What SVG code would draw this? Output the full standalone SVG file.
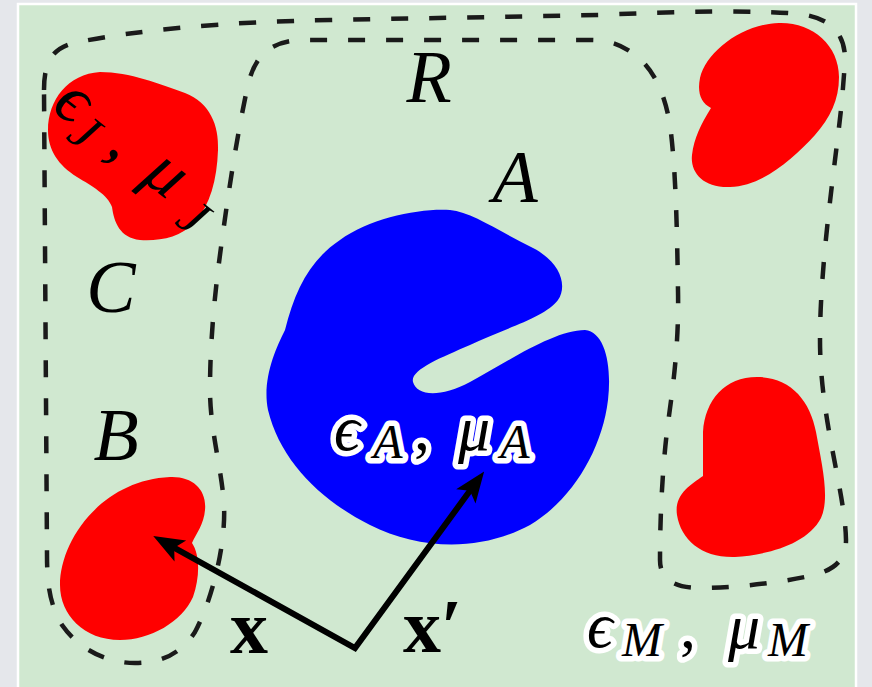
<svg xmlns="http://www.w3.org/2000/svg" width="872" height="687" viewBox="0 0 872 687">
  <defs>
    <style>
      .lab { font-family: "Liberation Serif", "DejaVu Serif", serif; font-style: italic; fill: #000; }
      .big { font-size: 74px; }
      .main { font-size: 64px; }
      .sub { font-size: 48px; }
      .bold { font-family: "Liberation Serif", "DejaVu Serif", serif; font-weight: bold; font-size: 76px; fill: #000; }
      .halo { stroke: #fff; stroke-width: 11; stroke-linejoin: round; paint-order: stroke fill; }
      .red { fill: #ff0000; }
      .blue { fill: #0000ff; }
      .dash { fill: none; stroke: #1a1a1a; stroke-width: 4.5; stroke-dasharray: 17 21; }
      .arrow { fill: none; stroke: #000; stroke-width: 6; stroke-linejoin: miter; stroke-miterlimit: 10; }
    </style>
    <marker id="head" markerUnits="userSpaceOnUse" markerWidth="60" markerHeight="60" refX="0" refY="0" orient="auto-start-reverse" overflow="visible">
      <path d="M17,0 L-14,-12 L-7,0 L-14,12 Z" fill="#000"/>
    </marker>
  </defs>

  <rect x="0" y="0" width="872" height="687" fill="#e5e7eb"/>
  <rect id="medium" x="18" y="4" width="838" height="700" fill="#d0e8d0" stroke="#ffffff" stroke-width="2.5"/>

  <g id="region-C">
    <path class="dash" d="M44,90 C44,62 52,47 78,42 C140,30 220,22 330,20 L600,15 C680,11 760,10 800,14 C832,18 846,35 845,62 L842,100 C836,160 820,260 820,340 C820,420 845,490 846,540 C846,562 832,572 805,577 C770,584 730,588 700,588 C675,588 660,580 660,560 C660,520 662,470 668,423 C674,380 679,340 678,290 C677,230 676,170 670,125 C665,95 655,70 635,55 C622,45 610,40 590,40 L300,40 C270,42 255,55 248,85 C240,120 230,180 222,240 C215,290 210,340 210,390 C210,430 222,470 224,505 C226,545 212,600 195,632 C180,655 160,663 135,663 C105,663 78,648 62,625 C50,605 47,585 47,555 Z"/>
  </g>

  <g id="blob-J">
    <path class="red" d="M100,72 C130,72 160,84 185,93 C210,103 219,125 218,150 C217,180 210,205 195,222 C180,238 160,241 140,240 C120,238 114,222 112,207 C108,195 92,186 77,177 C58,165 48,150 48,130 C48,100 68,74 100,72 Z"/>
  </g>

  <g id="blob-M1">
    <path class="red" d="M779,23 C812,22 839,45 839,77 C839,100 830,118 815,135 C792,160 762,186 730,187 C703,188 690,172 692,155 C694,138 701,124 711,108 C701,103 697,93 700,78 C706,52 742,24 779,23 Z"/>
  </g>

  <g id="blob-B">
    <path class="red" d="M170,477 C193,476 207,490 205,510 C204,524 196,534 192,543 C200,555 200,577 193,597 C182,622 150,640 120,640 C84,640 60,615 60,585 C60,540 102,480 170,477 Z"/>
  </g>

  <g id="blob-M2">
    <path class="red" d="M757,377 C790,377 810,400 816,432 C822,465 830,498 821,518 C807,545 766,555 735,557 C702,558 681,540 677,515 C674,495 690,485 703,476 L703,432 C705,400 725,377 757,377 Z"/>
  </g>

  <g id="blob-A">
    <path class="blue" d="M450,210 C472,212 500,232 533,248 C560,262 568,285 558,300 C545,318 500,330 470,345 C440,358 410,370 413,382 C417,396 440,398 470,382 C510,360 555,330 585,330 C605,332 612,365 608,400 C602,450 572,500 530,525 C480,552 420,550 370,525 C320,500 280,460 268,410 C262,380 275,350 285,330 C295,290 310,260 340,240 C370,218 420,208 450,210 Z"/>
  </g>

  <g id="connectors">
    <path class="arrow" d="M168.1,544.3 L355,648 L474.1,485.1" marker-start="url(#head)" marker-end="url(#head)"/>
  </g>

  <g id="labels">
    <text class="lab big" x="429" y="102" text-anchor="middle">R</text>
    <text class="lab big" x="515" y="202" text-anchor="middle">A</text>
    <text class="lab big" x="111" y="312" text-anchor="middle">C</text>
    <text class="lab big" x="116" y="460" text-anchor="middle">B</text>
    <text class="bold" x="249" y="653" text-anchor="middle">x</text>
    <text class="bold" x="403" y="652">x′</text>

    <text class="lab" transform="translate(52,110) rotate(38)">
      <tspan x="12" y="0" text-anchor="middle" font-size="70">ϵ</tspan><tspan x="39" y="14" text-anchor="middle" font-size="52">J</tspan><tspan x="76" y="0" text-anchor="middle" font-size="70" font-style="normal">,</tspan><tspan x="130" y="0" text-anchor="middle" font-size="70">μ</tspan><tspan x="177" y="14" text-anchor="middle" font-size="52">J</tspan>
    </text>

    <text class="lab halo">
      <tspan class="main" x="347" y="450" text-anchor="middle">ϵ</tspan><tspan class="sub" x="388" y="458" text-anchor="middle">A</tspan><tspan class="main" x="422" y="450" text-anchor="middle" font-style="normal">,</tspan><tspan class="main" x="474" y="450" text-anchor="middle">μ</tspan><tspan class="sub" x="515" y="458" text-anchor="middle">A</tspan>
    </text>

    <text class="lab halo">
      <tspan class="main" x="600" y="647" text-anchor="middle" font-size="58">ϵ</tspan><tspan class="sub" x="642" y="656" text-anchor="middle">M</tspan><tspan class="main" x="688" y="648" text-anchor="middle" font-style="normal">,</tspan><tspan class="main" x="744" y="648" text-anchor="middle">μ</tspan><tspan class="sub" x="788" y="656" text-anchor="middle">M</tspan>
    </text>
  </g>
</svg>
